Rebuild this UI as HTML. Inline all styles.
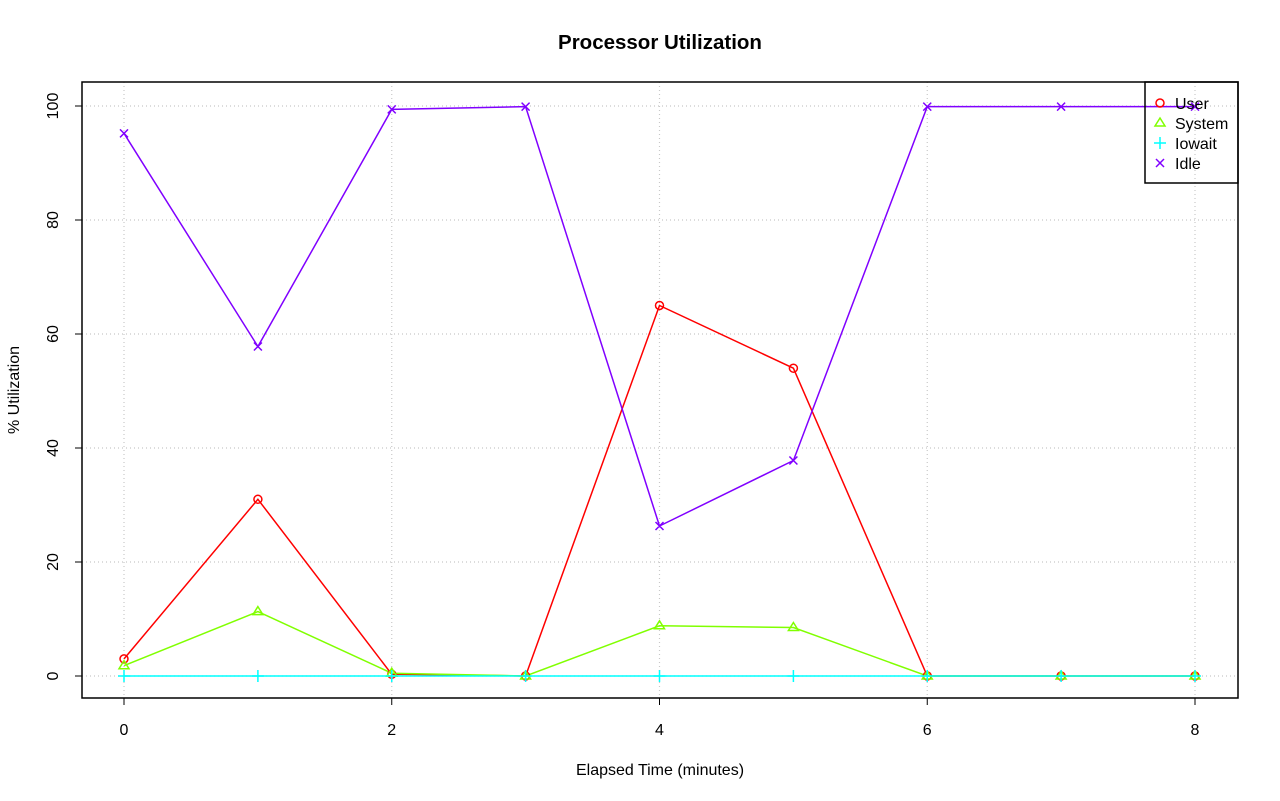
<!DOCTYPE html>
<html><head><style>body{margin:0;background:#fff}svg{display:block}text{font-family:"Liberation Sans",sans-serif}</style></head>
<body>
<svg width="1280" height="801" xmlns="http://www.w3.org/2000/svg">
<text x="660" y="49" font-size="20.5" font-weight="bold" text-anchor="middle">Processor Utilization</text>
<g stroke="#c8c8c8" stroke-dasharray="1,3" stroke-width="1.2">
<line x1="124" y1="82" x2="124" y2="698"/><line x1="391.75" y1="82" x2="391.75" y2="698"/><line x1="659.5" y1="82" x2="659.5" y2="698"/><line x1="927.25" y1="82" x2="927.25" y2="698"/><line x1="1195" y1="82" x2="1195" y2="698"/>
<line x1="82" y1="676" x2="1238" y2="676"/><line x1="82" y1="562" x2="1238" y2="562"/><line x1="82" y1="448" x2="1238" y2="448"/><line x1="82" y1="334" x2="1238" y2="334"/><line x1="82" y1="220" x2="1238" y2="220"/><line x1="82" y1="106" x2="1238" y2="106"/>
</g>
<rect x="82" y="82" width="1156" height="616" fill="none" stroke="#000" stroke-width="1.5"/>
<g stroke="#000">
<line x1="124" y1="698" x2="124" y2="705"/><line x1="391.75" y1="698" x2="391.75" y2="705"/><line x1="659.5" y1="698" x2="659.5" y2="705"/><line x1="927.25" y1="698" x2="927.25" y2="705"/><line x1="1195" y1="698" x2="1195" y2="705"/>
<line x1="75" y1="676" x2="82" y2="676"/><line x1="75" y1="562" x2="82" y2="562"/><line x1="75" y1="448" x2="82" y2="448"/><line x1="75" y1="334" x2="82" y2="334"/><line x1="75" y1="220" x2="82" y2="220"/><line x1="75" y1="106" x2="82" y2="106"/>
</g>
<g font-size="16" text-anchor="middle">
<text x="124" y="735">0</text><text x="391.75" y="735">2</text><text x="659.5" y="735">4</text><text x="927.25" y="735">6</text><text x="1195" y="735">8</text>
<text transform="translate(58,676) rotate(-90)">0</text><text transform="translate(58,562) rotate(-90)">20</text><text transform="translate(58,448) rotate(-90)">40</text><text transform="translate(58,334) rotate(-90)">60</text><text transform="translate(58,220) rotate(-90)">80</text><text transform="translate(58,106) rotate(-90)">100</text>
<text x="660" y="775">Elapsed Time (minutes)</text>
<text transform="translate(19,390) rotate(-90)">% Utilization</text>
</g>
<g fill="none" stroke-width="1.5">
<polyline stroke="#ff0000" points="124,658.9 257.9,499.3 391.75,674.3 525.6,676 659.5,305.5 793.4,368.2 927.25,676 1061.1,676 1195,676"/>
<polyline stroke="#80ff00" points="124,665.7 257.9,611.6 391.75,673.2 525.6,676 659.5,625.8 793.4,627.5 927.25,676 1061.1,676 1195,676"/>
<polyline stroke="#00ffff" points="124,676 1195,676"/>
<polyline stroke="#8000ff" points="124,133.4 257.9,346.5 391.75,109.4 525.6,106.6 659.5,526 793.4,460.5 927.25,106.6 1061.1,106.6 1195,106.6"/>
</g>
<g fill="none" stroke="#ff0000" stroke-width="1.5">
<circle cx="124" cy="658.9" r="4"/><circle cx="257.9" cy="499.3" r="4"/><circle cx="391.75" cy="674.3" r="4"/><circle cx="525.6" cy="676" r="4"/><circle cx="659.5" cy="305.5" r="4"/><circle cx="793.4" cy="368.2" r="4"/><circle cx="927.25" cy="676" r="4"/><circle cx="1061.1" cy="676" r="4"/><circle cx="1195" cy="676" r="4"/>
<circle cx="1160" cy="103" r="4"/>
</g>
<g fill="none" stroke="#80ff00" stroke-width="1.5">
<path d="M124,660.7 l5,8 h-10z M257.9,606.6 l5,8 h-10z M391.75,668.2 l5,8 h-10z M525.6,671 l5,8 h-10z M659.5,620.8 l5,8 h-10z M793.4,622.5 l5,8 h-10z M927.25,671 l5,8 h-10z M1061.1,671 l5,8 h-10z M1195,671 l5,8 h-10z M1160,118 l5,8 h-10z"/>
</g>
<g stroke="#00ffff" stroke-width="1.5">
<path d="M118,676 h12 M124,670 v12 M251.9,676 h12 M257.9,670 v12 M385.75,676 h12 M391.75,670 v12 M519.6,676 h12 M525.6,670 v12 M653.5,676 h12 M659.5,670 v12 M787.4,676 h12 M793.4,670 v12 M921.25,676 h12 M927.25,670 v12 M1055.1,676 h12 M1061.1,670 v12 M1189,676 h12 M1195,670 v12 M1154,143 h12 M1160,137 v12"/>
</g>
<g stroke="#8000ff" stroke-width="1.5">
<path d="M120,129.4 l8,8 m0,-8 l-8,8 M253.9,342.5 l8,8 m0,-8 l-8,8 M387.75,105.4 l8,8 m0,-8 l-8,8 M521.6,102.6 l8,8 m0,-8 l-8,8 M655.5,522 l8,8 m0,-8 l-8,8 M789.4,456.5 l8,8 m0,-8 l-8,8 M923.25,102.6 l8,8 m0,-8 l-8,8 M1057.1,102.6 l8,8 m0,-8 l-8,8 M1191,102.6 l8,8 m0,-8 l-8,8 M1156,159 l8,8 m0,-8 l-8,8"/>
</g>
<rect x="1145" y="82" width="93" height="101" fill="none" stroke="#000" stroke-width="1.5"/>
<g font-size="16">
<text x="1175" y="109">User</text><text x="1175" y="129">System</text><text x="1175" y="149">Iowait</text><text x="1175" y="169">Idle</text>
</g>
</svg>
</body></html>
